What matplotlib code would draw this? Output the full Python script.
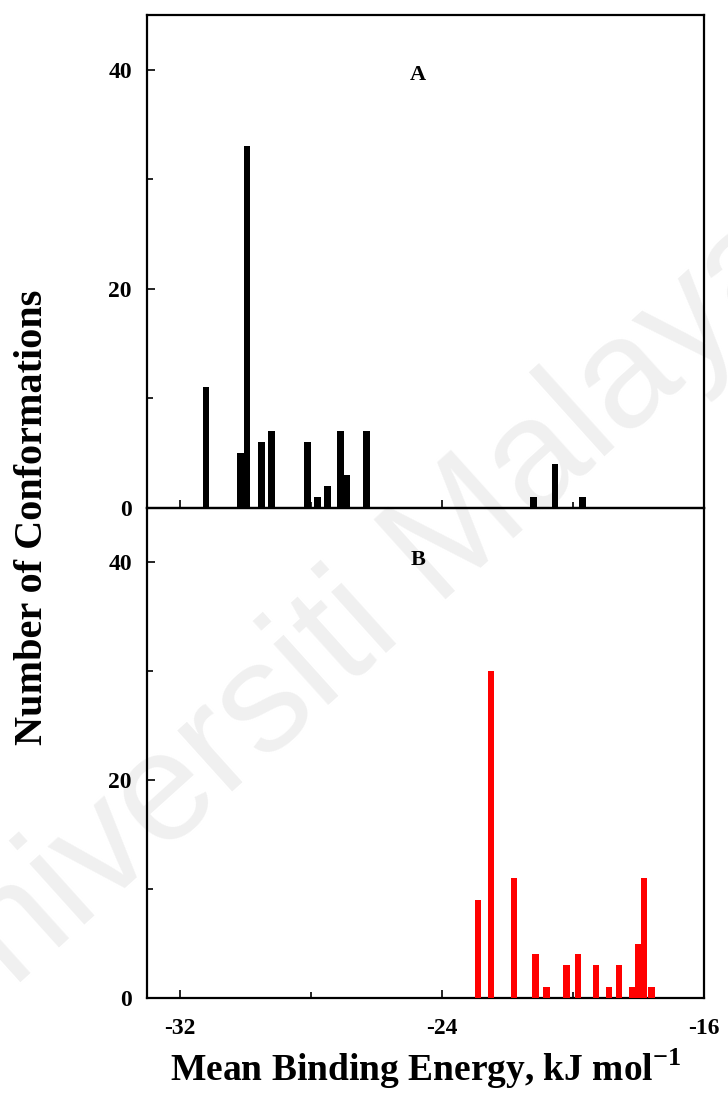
import matplotlib
matplotlib.use('Agg')
import matplotlib.pyplot as plt
from matplotlib.ticker import MultipleLocator

# binding energy (kJ/mol) and number of conformations for each cluster
energy_a = [-31.2, -30.15, -29.95, -29.5, -29.2, -28.1, -27.8, -27.5, -27.1, -26.9, -26.3, -21.2, -20.55, -19.7]
count_a = [11, 5, 33, 6, 7, 6, 1, 2, 7, 3, 7, 1, 4, 1]

energy_b = [-22.9, -22.5, -21.8, -21.15, -20.8, -20.2, -19.85, -19.3, -18.9, -18.6, -18.2, -18.0, -17.83, -17.6]
count_b = [9, 30, 11, 4, 1, 3, 4, 3, 1, 3, 1, 5, 11, 1]

plt.rcParams['font.family'] = 'Liberation Serif'
plt.rcParams['font.weight'] = 'bold'
plt.rcParams['axes.unicode_minus'] = False
plt.rcParams['mathtext.fontset'] = 'custom'
plt.rcParams['mathtext.bf'] = 'Liberation Serif:bold'
plt.rcParams['mathtext.rm'] = 'Liberation Serif:bold'

fig = plt.figure(figsize=(7.28, 11.01), dpi=100)
ax1 = fig.add_axes([0.202, 0.5386, 0.765, 0.4478])
ax2 = fig.add_axes([0.202, 0.0935, 0.765, 0.4451], sharex=ax1)

# faint background watermark, drawn under the axes
fig.text(0.47, 0.42, 'Universiti Malaya', fontsize=112, family='Liberation Sans',
         fontweight='normal', color='#f0f0f0', rotation=42,
         ha='center', va='center', zorder=-1)

ax1.bar(energy_a, count_a, width=0.2, color='black', zorder=3)
ax2.bar(energy_b, count_b, width=0.2, color='red', zorder=3)

for ax, lab, ypos in [(ax1, 'A', 0.878), (ax2, 'B', 0.894)]:
    ax.set_facecolor('none')
    ax.set_ylim(0, 45)
    ax.set_xlim(-33, -16)
    ax.yaxis.set_major_locator(MultipleLocator(20))
    ax.yaxis.set_minor_locator(MultipleLocator(10))
    ax.xaxis.set_major_locator(MultipleLocator(8))
    ax.xaxis.set_minor_locator(MultipleLocator(4))
    ax.tick_params(which='both', direction='in', top=False, right=False,
                   labelsize=17, width=1.2)
    ax.tick_params(which='major', length=6)
    ax.tick_params(which='minor', length=4)
    ax.tick_params(axis='x', pad=14)
    ax.tick_params(axis='y', pad=11)
    for s in ax.spines.values():
        s.set_linewidth(1.6)
    ax.text(0.487, ypos, lab, transform=ax.transAxes, fontsize=16,
            fontweight='bold', ha='center', va='center')

ax1.tick_params(labelbottom=False)
ax2.set_xlabel('Mean Binding Energy, kJ mol$^{\\mathbf{-1}}$', fontsize=27,
               fontweight='bold', labelpad=6)
fig.text(0.045, 0.53, 'Number of Conformations', rotation=90, fontsize=29,
         fontweight='bold', ha='center', va='center')

fig.savefig('out.png', dpi=100)
